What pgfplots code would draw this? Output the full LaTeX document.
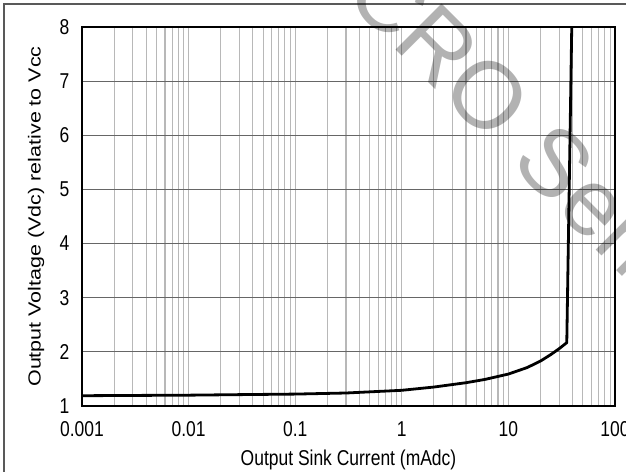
\documentclass[border=0pt]{standalone}
\usepackage{fontspec}
\setmainfont{Liberation Sans}
% horizontal texts are set tall and narrow, the rotated axis title long and slim
\newfontfamily\tallfont{Liberation Sans}[FakeStretch=0.814]
\newfontfamily\longfont{Liberation Sans}[FakeStretch=1.23]
\usepackage{pgfplots}
\pgfplotsset{compat=1.18}

\begin{document}
\fontsize{12.75}{15}\selectfont
\begin{tikzpicture}
\useasboundingbox (0,0) rectangle (469.5pt,354pt);
% figure frame
\draw[line width=1.1pt, black!65] (3pt,-15pt) -- (3pt,351pt) -- (495pt,351pt);
\begin{axis}[
  at={(61.5pt,49.5pt)}, anchor=south west,
  scale only axis, width=399.75pt, height=284.25pt,
  xmode=log, xmin=0.001, xmax=100, ymin=1, ymax=8,
  xtick={0.001,0.01,0.1,1,10,100},
  xticklabels={0.001,0.01,0.1,1,10,100},
  minor xtick={0.002,0.003,0.004,0.005,0.006,0.007,0.008,0.009,
               0.02,0.03,0.04,0.05,0.06,0.07,0.08,0.09,
               0.2,0.3,0.4,0.5,0.6,0.7,0.8,0.9,
               2,3,4,5,6,7,8,9,
               20,30,40,50,60,70,80,90},
  ytick={1,2,3,4,5,6,7,8},
  /pgf/number format/assume math mode=true,
  tick label style={font=\fontsize{16.1}{19}\selectfont\tallfont},
  xmajorgrids, xminorgrids, ymajorgrids,
  major x grid style={black!28, line width=0.85pt},
  minor x grid style={black!28, line width=0.85pt},
  major y grid style={black!60, line width=0.6pt},
  major tick length=0pt, minor tick length=0pt,
  axis line style={line width=2.2pt},
  xticklabel style={yshift=-7.4pt},
  yticklabel style={xshift=-5pt},
  xlabel={Output Sink Current (mAdc)},
  ylabel={Output Voltage (Vdc) relative to Vcc},
  xlabel style={at={(axis description cs:0.5,-0.142)}, anchor=center,
                font=\fontsize{16.1}{19}\selectfont\tallfont},
  ylabel style={at={(axis description cs:-0.0863,0.5)}, anchor=center,
                font=\fontsize{13.1}{15}\selectfont\longfont},
]
\addplot[black, line width=2.1pt, line join=round] coordinates {
  (0.001,1.19) (0.003,1.195) (0.01,1.20) (0.03,1.21) (0.1,1.22)
  (0.3,1.24) (1,1.29) (2,1.35) (4,1.43) (6,1.49) (10,1.59)
  (15,1.71) (20,1.83) (25,1.95) (30,2.06) (35.3,2.17) (39.3,8)
};
\end{axis}
% distributor watermark
\begin{scope}[x=0.75pt, y=0.75pt]
\node[rotate=-45, anchor=base east, inner sep=0, text=black, text opacity=0.3,
      font=\fontsize{71}{78}\selectfont] at (342,476) {MI};
\node[rotate=-45, anchor=base west, inner sep=0, text=black, text opacity=0.3,
      font=\fontsize{71}{78}\selectfont] at (342,476) {CRO Semi};
\end{scope}
\end{tikzpicture}
\end{document}
